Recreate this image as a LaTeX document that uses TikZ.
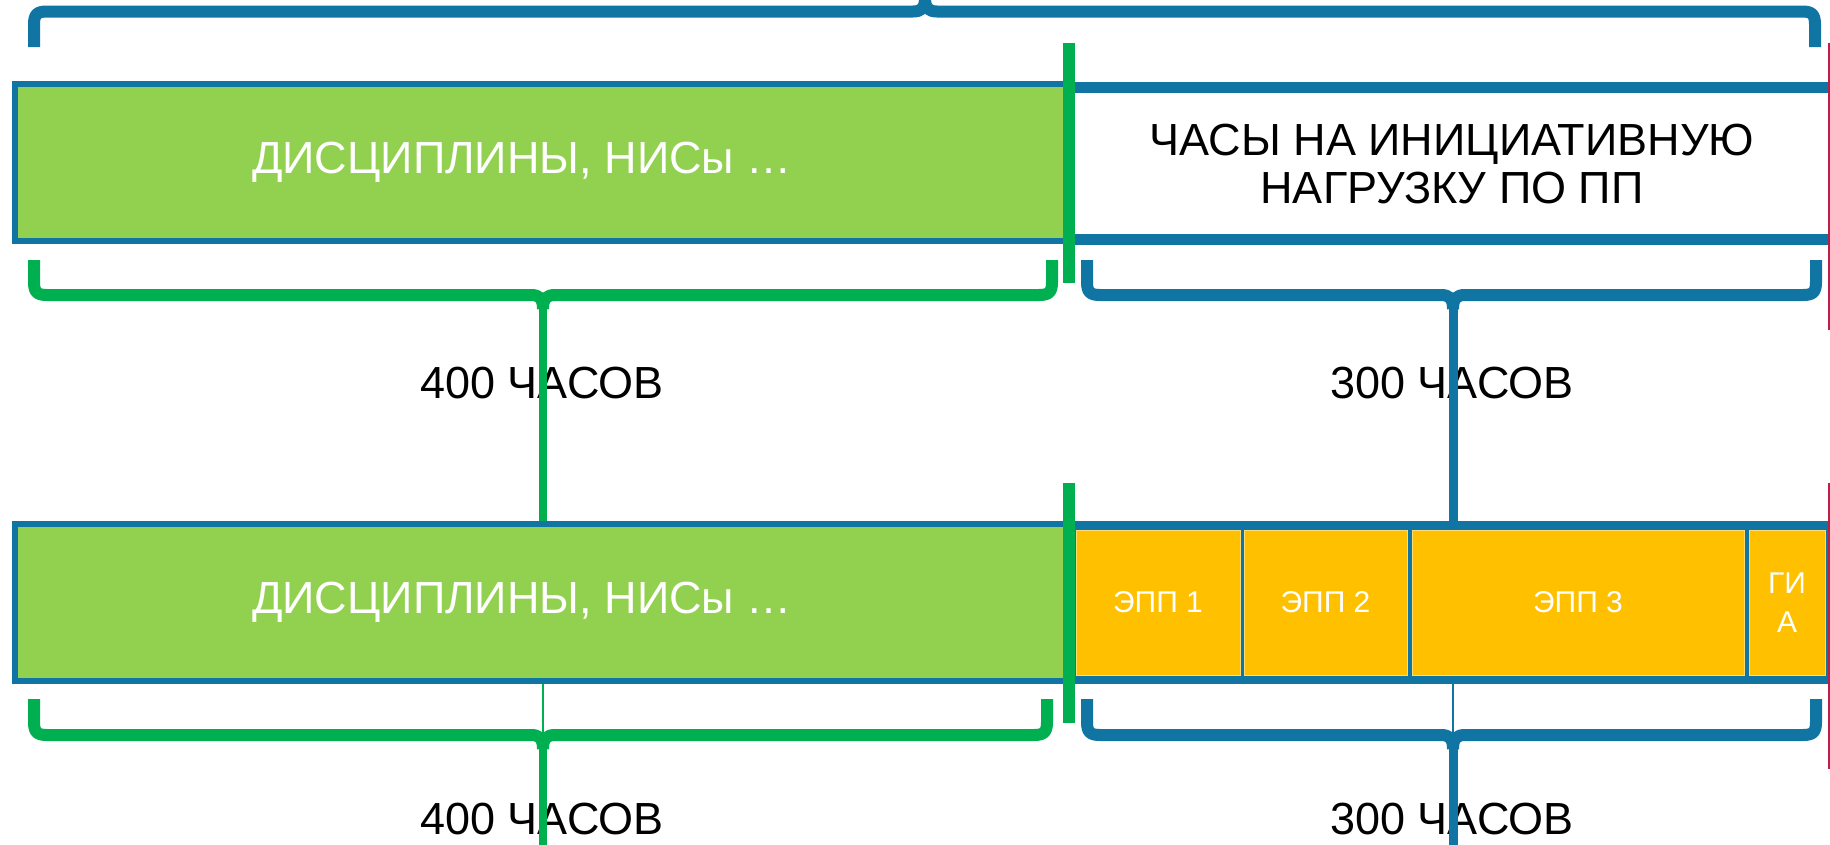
\documentclass[tikz,border=0pt]{standalone}
\usepackage{fontspec}
\setmainfont{Liberation Sans}
\definecolor{ppblue}{RGB}{16,117,162}
\definecolor{brgreen}{RGB}{0,176,80}
\definecolor{ltgreen}{RGB}{146,208,80}
\definecolor{ppyellow}{RGB}{255,192,0}
\definecolor{ppred}{RGB}{190,30,70}
\newcommand\mybrace[7]{%
  \draw[#1] (#2,#5) -- (#2,#6-13) .. controls (#2,#6-3) and (#2+3,#6) .. (#2+13,#6) -- (#4-12,#6) .. controls (#4-4,#6) and (#4,#6+3) .. (#4,#6+14);
  \draw[#1] (#3,#5) -- (#3,#6-13) .. controls (#3,#6-3) and (#3-3,#6) .. (#3-13,#6) -- (#4+12,#6) .. controls (#4+4,#6) and (#4,#6+3) .. (#4,#6+14);
  \coordinate (#7) at (#4,#6+12);}
\begin{document}
\begin{tikzpicture}[x=1pt,y=-1pt,
  gbrace/.style={draw=brgreen, line width=12pt, line join=round},
  bbrace/.style={draw=ppblue, line width=12pt, line join=round},
  rectL/.style={draw=ppblue, line width=6pt, fill=ltgreen, inner sep=0pt, minimum width=1057pt, minimum height=157pt},
  rectR/.style={draw=ppblue, line width=11pt, fill=white, inner sep=0pt, minimum width=825pt, minimum height=151.5pt},
  bandR/.style={fill=ppblue, inner sep=0pt, minimum width=830pt, minimum height=163pt},
  ybox/.style={fill=ppyellow, draw=ppyellow!55!white, line width=0.8pt, inner sep=0pt, minimum height=145pt, text=white, font=\fontsize{30}{39}\selectfont, align=center},
  big/.style={font=\fontsize{45}{48}\selectfont, inner sep=0pt},
  gbar/.style={draw=brgreen, line width=12pt},
  gconn/.style={draw=brgreen, line width=8pt},
  bconn/.style={draw=ppblue, line width=9pt},
  gthin/.style={draw=brgreen, line width=2.5pt},
  bthin/.style={draw=ppblue, line width=2pt},
  redl/.style={draw=ppred, line width=2pt}]
\useasboundingbox (0,0) rectangle (1830,844);
\clip (0,0) rectangle (1830,844);
\fill[white] (0,0) rectangle (1830,844);
% top brace (tip up)
\draw[bbrace] (34,47) -- (34,24.5) .. controls (34,14.5) and (37,11.5) .. (47,11.5) -- (913,11.5) .. controls (921,11.5) and (925,8.5) .. (925,-2);
\draw[bbrace] (1815,47) -- (1815,24.5) .. controls (1815,14.5) and (1812,11.5) .. (1802,11.5) -- (937,11.5) .. controls (929,11.5) and (925,8.5) .. (925,-2);
\coordinate (ttip) at (925,-2);
% row 1
\node[rectL] (r1L) at (543.5,162.5) {};
\node[rectR] (r1R) at (1481.5,163.25) {};
\node[big, text=white, anchor=base] (t1) at (522,173) {ДИСЦИПЛИНЫ, НИСы …};
\node[big, anchor=base] (t2a) at (1452,155) {ЧАСЫ НА ИНИЦИАТИВНУЮ};
\node[big, anchor=base] (t2b) at (1452,203) {НАГРУЗКУ ПО ПП};
\draw[gbar] (1069,43) -- (1069,283);
\draw[redl] (1829,43) -- (1829,330);
% row 1 braces
\mybrace{gbrace}{34}{1052}{543}{260}{295}{tipA}
\mybrace{bbrace}{1087}{1816}{1453}{260}{295}{tipB}
\node[big, anchor=base] (h1) at (542,398) {400 ЧАСОВ};
\node[big, anchor=base] (h2) at (1452,398) {300 ЧАСОВ};
% row 2
\node[rectL] (r2L) at (543.5,602.5) {};
\node[bandR] (r2R) at (1490,602.5) {};
\node[ybox, minimum width=164pt] (e1) at (1158,602.5) {ЭПП 1};
\node[ybox, minimum width=163pt] (e2) at (1325.5,602.5) {ЭПП 2};
\node[ybox, minimum width=332pt] (e3) at (1578,602.5) {ЭПП 3};
\node[ybox, minimum width=76pt] (gia) at (1787,602.5) {ГИ\\А};
\node[big, text=white, anchor=base] (t3) at (522,613) {ДИСЦИПЛИНЫ, НИСы …};
\draw[gbar] (1069,483) -- (1069,723);
\draw[redl] (1829,483) -- (1829,769);
% row 2 braces
\mybrace{gbrace}{34}{1047}{543}{699}{735}{tipC}
\mybrace{bbrace}{1087}{1816}{1453}{699}{735}{tipD}
\coordinate (hC) at (543,735);
\coordinate (hD) at (1453,735);
\node[big, anchor=base] (h3) at (542,834) {400 ЧАСОВ};
\node[big, anchor=base] (h4) at (1452,834) {300 ЧАСОВ};
\coordinate (endC) at (543,850);
\coordinate (endD) at (1453,850);
% connectors
\draw[gconn] (tipA) -- (r2L.north -| tipA);
\draw[bconn] (tipB) -- (r2R.north -| tipB);
\draw[gthin] (r2L.south -| hC) -- (hC);
\draw[bthin] (r2R.south -| hD) -- (hD);
\draw[gconn] (tipC) -- (endC);
\draw[bconn] (tipD) -- (endD);
\end{tikzpicture}
\end{document}
